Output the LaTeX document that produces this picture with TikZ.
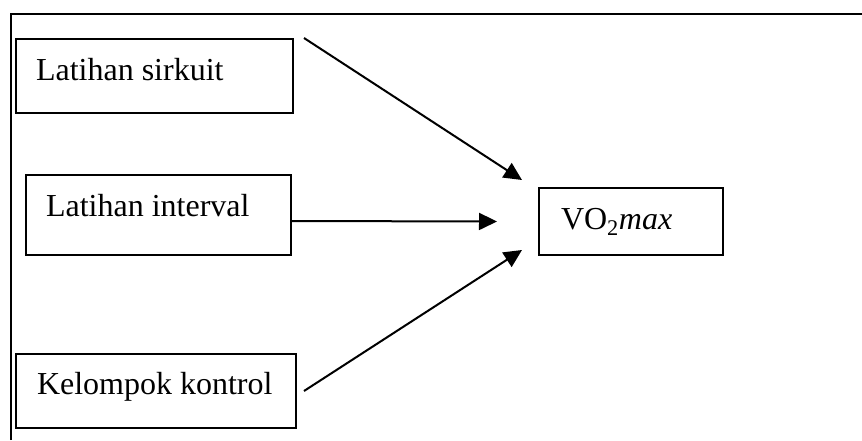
\documentclass[tikz,border=0pt]{standalone}
\usepackage{fontspec}
\setmainfont{Liberation Serif}
\usepackage{tikz}
\usetikzlibrary{arrows.meta}

\begin{document}
\begin{tikzpicture}[x=1pt, y=-1pt,
    varbox/.style={draw, line width=2pt, anchor=north west, align=flush left,
      inner xsep=20pt, inner ysep=0pt, text height=41pt, text depth=33pt,
      font=\fontsize{32pt}{38pt}\selectfont},
    arr/.style={line width=2pt, -{Triangle[length=18pt, width=17pt]}}]
  \useasboundingbox (0,0) rectangle (862,440);
  \draw[line width=2pt] (11,440) -- (11,13.5) -- (862,13.5);

  \node[varbox, text width=237pt] (sirkuit) at (15,38) {Latihan sirkuit};
  \node[varbox, text width=225pt, text height=41pt, text depth=39pt] (interval) at (25,174) {Latihan interval};
  \node[varbox, text width=238pt, inner xsep=21pt, text height=40pt, text depth=34pt] (kontrol) at (15,353) {Kelompok kontrol};
  \node[varbox, text width=140pt, inner xsep=22pt, text depth=26pt] (vo) at (538,187) {VO\textsubscript{2}\textit{max}};

  \coordinate (a1) at ([xshift=10pt]sirkuit.north east);
  \coordinate (a2) at ([yshift=-6pt]interval.east);
  \coordinate (a3) at ([xshift=7pt]kontrol.east);
  \coordinate (b1) at ([xshift=-16pt, yshift=7pt]vo.north west);
  \coordinate (b2) at ([xshift=-41pt]vo.west);
  \coordinate (b3) at ([xshift=-16pt, yshift=6pt]vo.south west);

  \draw[arr] (a1) -- (b1);
  \draw[arr] (a2) -- (b2);
  \draw[arr] (a3) -- (b3);
\end{tikzpicture}
\end{document}
